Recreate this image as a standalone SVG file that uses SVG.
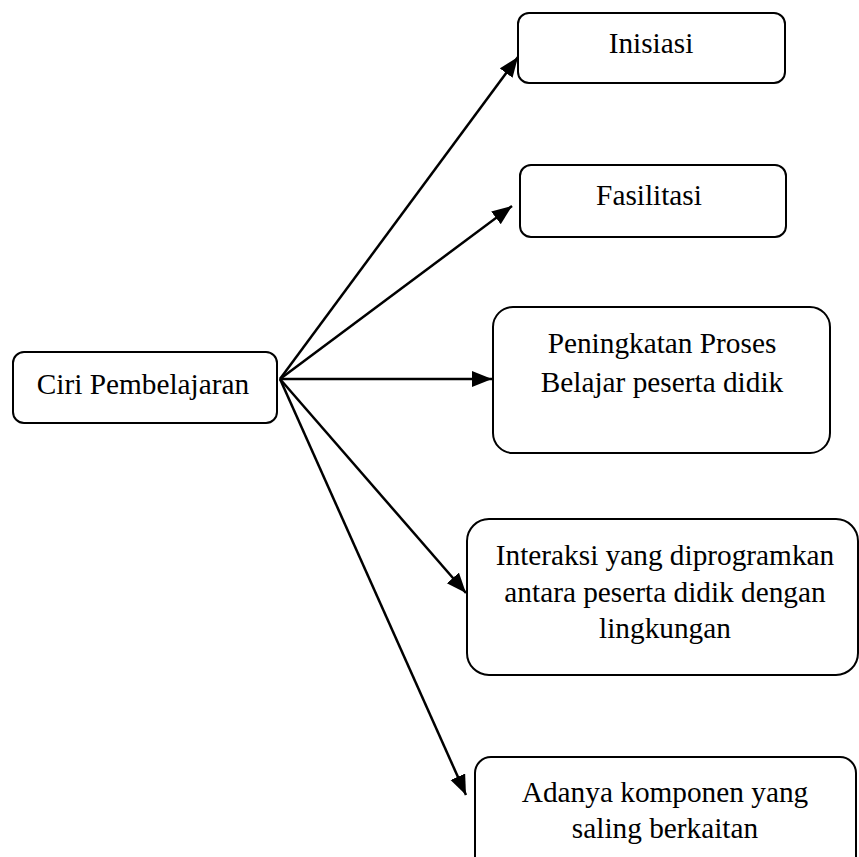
<svg xmlns="http://www.w3.org/2000/svg" width="859" height="857" viewBox="0 0 859 857">
<style>
.box{fill:#fff;stroke:#000;stroke-width:2}
.t{font-family:"Liberation Serif","Times New Roman",serif;font-size:29.3px;fill:#000;text-anchor:middle}
.c{stroke:#000;stroke-width:2.5;fill:none}
</style>
<defs>
<marker id="ah" markerUnits="userSpaceOnUse" markerWidth="22" markerHeight="18" refX="20" refY="8" orient="auto">
<path d="M0,0 L20,8 L0,16 Z" fill="#000"/>
</marker>
</defs>
<rect width="859" height="857" fill="#fff"/>
<g id="connectors">
<line class="c" x1="280" y1="379" x2="518" y2="57" marker-end="url(#ah)"/>
<line class="c" x1="280" y1="379" x2="512" y2="206" marker-end="url(#ah)"/>
<line class="c" x1="280" y1="379" x2="492" y2="379" marker-end="url(#ah)"/>
<line class="c" x1="280" y1="379" x2="466" y2="593" marker-end="url(#ah)"/>
<line class="c" x1="280" y1="379" x2="466" y2="795" marker-end="url(#ah)"/>
</g>
<g id="ciri">
<rect class="box" x="13" y="352" width="264" height="71" rx="11"/>
<text class="t" x="143" y="394">Ciri Pembelajaran</text>
</g>
<g id="inisiasi">
<rect class="box" x="518" y="13" width="267" height="70" rx="11"/>
<text class="t" x="651" y="53">Inisiasi</text>
</g>
<g id="fasilitasi">
<rect class="box" x="520" y="165" width="266" height="72" rx="11"/>
<text class="t" x="649" y="205">Fasilitasi</text>
</g>
<g id="peningkatan">
<rect class="box" x="493" y="307" width="337" height="146" rx="20"/>
<text class="t" x="662" y="353">Peningkatan Proses</text>
<text class="t" x="662" y="392">Belajar peserta didik</text>
</g>
<g id="interaksi">
<rect class="box" x="467" y="519" width="391" height="156" rx="22"/>
<text class="t" x="665" y="565">Interaksi yang diprogramkan</text>
<text class="t" x="665" y="602">antara peserta didik dengan</text>
<text class="t" x="665" y="638">lingkungan</text>
</g>
<g id="adanya">
<rect class="box" x="475" y="757" width="381" height="115" rx="16"/>
<text class="t" x="665" y="802">Adanya komponen yang</text>
<text class="t" x="665" y="838">saling berkaitan</text>
</g>
</svg>
